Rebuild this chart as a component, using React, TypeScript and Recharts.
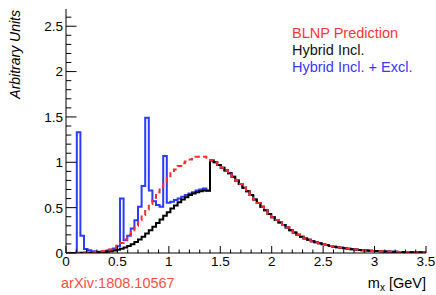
import React from 'react';
import { ComposedChart, Line, XAxis, YAxis, Legend } from 'recharts';

// 100 bins of width 0.035 GeV between 0 and 3.5
const BIN_WIDTH = 0.035;
const N_BINS = 100;

// bins 0..39 (below the 1.4 GeV cut)
const blueLow = [
  0, 0, 0, 1.33, 0.19, 0.045, 0.03, 0.02, 0.015, 0.015,
  0.02, 0.025, 0.035, 0.05, 0.075, 0.6, 0.14, 0.19, 0.27, 0.36,
  0.51, 0.74, 1.49, 0.69, 0.57, 0.53, 0.51, 1.07, 0.555, 0.565,
  0.585, 0.6, 0.62, 0.64, 0.655, 0.67, 0.69, 0.7, 0.71, 0.69,
];
const blackLow = [
  0, 0, 0, 0.001, 0.002, 0.002, 0.003, 0.004, 0.006, 0.008,
  0.011, 0.015, 0.02, 0.027, 0.036, 0.047, 0.06, 0.077, 0.097, 0.12,
  0.15, 0.18, 0.215, 0.25, 0.29, 0.33, 0.37, 0.41, 0.45, 0.49,
  0.525, 0.56, 0.59, 0.615, 0.64, 0.655, 0.67, 0.68, 0.69, 0.685,
];
const redLow = [
  0.001, 0.002, 0.002, 0.003, 0.004, 0.005, 0.007, 0.009, 0.012, 0.016,
  0.021, 0.028, 0.038, 0.055, 0.08, 0.11, 0.15, 0.2, 0.25, 0.3,
  0.36, 0.42, 0.48, 0.54, 0.61, 0.67, 0.73, 0.78, 0.83, 0.88,
  0.92, 0.96, 0.99, 1.01, 1.03, 1.05, 1.06, 1.065, 1.06, 1.05,
];
// bins 40..99, common to all three
const tail = [
  1.02, 1.0, 0.97, 0.94, 0.91, 0.88, 0.84, 0.8, 0.76, 0.72,
  0.68, 0.64, 0.59, 0.55, 0.51, 0.47, 0.43, 0.395, 0.365, 0.335,
  0.31, 0.28, 0.25, 0.225, 0.2, 0.18, 0.16, 0.145, 0.13, 0.118,
  0.107, 0.097, 0.087, 0.078, 0.07, 0.063, 0.057, 0.051, 0.046, 0.042,
  0.038, 0.034, 0.031, 0.028, 0.025, 0.023, 0.021, 0.019, 0.017, 0.016,
  0.015, 0.013, 0.012, 0.011, 0.01, 0.009, 0.009, 0.008, 0.007, 0.007,
];

const blueVals = [...blueLow, ...tail];
const blackVals = [...blackLow, ...tail];
const redVals = [...redLow, ...tail];

const xTicks = Array.from({ length: 36 }, (_, i) => i / 10);
const yTicks = Array.from({ length: 27 }, (_, i) => i / 10);

const SERIES = [
  { name: 'BLNP Prediction', color: '#ff3535' },
  { name: 'Hybrid Incl.', color: '#111111' },
  { name: 'Hybrid Incl. + Excl.', color: '#3838ff' },
];

const data = Array.from({ length: N_BINS + 1 }, (_, i) => {
  const j = Math.min(i, N_BINS - 1);
  return { x: +(i * BIN_WIDTH).toFixed(3), blue: blueVals[j], black: blackVals[j], red: redVals[j] };
});

const FONT = '"Liberation Sans", Arial, Helvetica, sans-serif';
const isMajor = (v: number) => Math.round(v * 10) % 5 === 0;

const BottomTick = (props: any) => {
  const { x, y, payload } = props;
  const major = isMajor(payload.value);
  return (
    <g>
      <line x1={x} y1={y} x2={x} y2={y - (major ? 7 : 3.5)} stroke="#000" />
      {major && (
        <text x={x} y={y + 13} textAnchor="middle" fontSize={13.5} fontFamily={FONT} fill="#000">
          {String(payload.value)}
        </text>
      )}
    </g>
  );
};

const TopTick = (props: any) => {
  const { x, y, payload } = props;
  const major = isMajor(payload.value);
  return <line x1={x} y1={y} x2={x} y2={y + (major ? 7 : 3.5)} stroke="#000" />;
};

const LeftTick = (props: any) => {
  const { x, y, payload } = props;
  const major = isMajor(payload.value);
  return (
    <g>
      <line x1={x} y1={y} x2={x + (major ? 10.5 : 5.3)} y2={y} stroke="#000" />
      {major && (
        <text x={x - 3} y={y} dy="0.36em" textAnchor="end" fontSize={13.5} fontFamily={FONT} fill="#000">
          {String(payload.value)}
        </text>
      )}
    </g>
  );
};

const RightTick = (props: any) => {
  const { x, y, payload } = props;
  const major = isMajor(payload.value);
  return <line x1={x} y1={y} x2={x - (major ? 10.5 : 5.3)} y2={y} stroke="#000" />;
};

const XTitle = (props: any) => {
  const vb = props.viewBox;
  return (
    <g fontFamily={FONT} fontSize={14.5}>
      <text x={vb.x + vb.width} y={vb.y + 35} textAnchor="end" fill="#000">
        <tspan>m</tspan>
        <tspan fontSize={10} dy={3}>x</tspan>
        <tspan dy={-3}> [GeV]</tspan>
      </text>
      <text x={vb.x - 5} y={vb.y + 35} fill="#ff5040">arXiv:1808.10567</text>
    </g>
  );
};

const YTitle = (props: any) => {
  const vb = props.viewBox;
  const x = vb.x + 19.5;
  const y = vb.y + 1;
  return (
    <text
      x={x}
      y={y}
      transform={`rotate(-90 ${x} ${y})`}
      textAnchor="end"
      fontFamily={FONT}
      fontSize={14}
      fontStyle="italic"
      fill="#000"
    >
      Arbitrary Units
    </text>
  );
};

const LegendBox = () => (
  <div style={{ fontFamily: FONT, fontSize: 14.5, lineHeight: '17px', whiteSpace: 'nowrap' }}>
    {SERIES.map((s) => (
      <div key={s.name} style={{ color: s.color }}>{s.name}</div>
    ))}
  </div>
);

export default function App() {
  return (
    <div style={{ position: 'absolute', left: 0, top: 0, background: '#fff' }}>
      <ComposedChart width={436} height={295} data={data} margin={{ top: 9, right: 10, left: 0, bottom: 0 }}>
        <XAxis
          xAxisId="b"
          dataKey="x"
          type="number"
          domain={[0, 3.5]}
          ticks={xTicks}
          interval={0}
          height={42}
          tickSize={0}
          tickMargin={0}
          tick={<BottomTick />}
          axisLine={{ stroke: '#000' }}
          label={<XTitle />}
        />
        <XAxis
          xAxisId="t"
          orientation="top"
          dataKey="x"
          type="number"
          domain={[0, 3.5]}
          ticks={xTicks}
          interval={0}
          height={0}
          tickSize={0}
          tickMargin={0}
          tick={<TopTick />}
          axisLine={{ stroke: '#000' }}
        />
        <YAxis
          yAxisId="l"
          type="number"
          domain={[0, 2.69]}
          allowDataOverflow
          ticks={yTicks}
          interval={0}
          width={66}
          tickSize={0}
          tickMargin={0}
          tick={<LeftTick />}
          axisLine={{ stroke: '#000' }}
          label={<YTitle />}
        />
        <YAxis
          yAxisId="r"
          orientation="right"
          type="number"
          domain={[0, 2.69]}
          allowDataOverflow
          ticks={yTicks}
          interval={0}
          width={0}
          tickSize={0}
          tickMargin={0}
          tick={<RightTick />}
          axisLine={{ stroke: '#000' }}
        />
        <Legend
          layout="vertical"
          align="center"
          verticalAlign="middle"
          content={<LegendBox />}
          wrapperStyle={{ position: 'absolute', left: 292, top: 25, width: 140, height: 52 }}
        />
        <Line
          xAxisId="b"
          yAxisId="l"
          type="stepAfter"
          dataKey="blue"
          stroke="#2b3bff"
          strokeWidth={2}
          dot={false}
          isAnimationActive={false}
        />
        <Line
          xAxisId="b"
          yAxisId="l"
          type="stepAfter"
          dataKey="black"
          stroke="#000"
          strokeWidth={2}
          dot={false}
          isAnimationActive={false}
        />
        <Line
          xAxisId="b"
          yAxisId="l"
          type="stepAfter"
          dataKey="red"
          stroke="#ff2a2a"
          strokeWidth={2}
          strokeDasharray="5 4"
          dot={false}
          isAnimationActive={false}
        />
      </ComposedChart>
    </div>
  );
}
